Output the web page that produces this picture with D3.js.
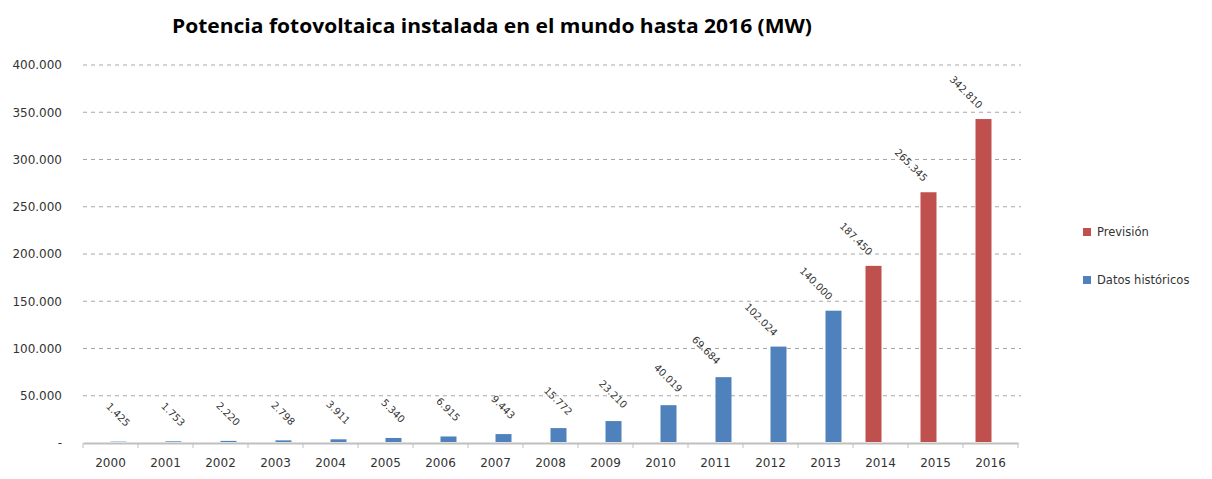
<!DOCTYPE html>
<html>
<head>
<meta charset="utf-8">
<script src="https://cdn.jsdelivr.net/npm/d3@7"></script>
<style>
  body { margin: 0; background: #fff; }
  svg text { font-family: "DejaVu Sans", "Open Sans", sans-serif; }
</style>
</head>
<body>
<svg id="chart" width="1212" height="479"></svg>
<script>
// data
const years = ['2000','2001','2002','2003','2004','2005','2006','2007','2008',
               '2009','2010','2011','2012','2013','2014','2015','2016'];
const historicos = [1425, 1753, 2220, 2798, 3911, 5340, 6915, 9443, 15772,
                    23210, 40019, 69684, 102024, 140000, null, null, null];
const prevision = [null, null, null, null, null, null, null, null, null,
                   null, null, null, null, null, 187450, 265345, 342810];
const yTicks = [0, 50000, 100000, 150000, 200000, 250000, 300000, 350000, 400000];
const seriesNames = ['Previsión', 'Datos históricos'];
const seriesColors = ['#c0504d', '#4f81bd'];

const es = d3.formatLocale({ decimal: ',', thousands: '.', grouping: [3], currency: ['', '€'] });
const fmt = es.format(',d');

const svg = d3.select('#chart');
const plot = { left: 83, right: 1018, top: 65, bottom: 443 };

const x = d3.scaleBand().domain(years).range([plot.left, plot.right]).padding(0);
const xSub = d3.scaleBand().domain(seriesNames).range([-15, 15]);
const y = d3.scaleLinear().domain([0, 400000]).range([plot.bottom, plot.top]);

// Title
svg.append('text')
  .attr('x', 492)
  .attr('y', 33)
  .attr('text-anchor', 'middle')
  .attr('textLength', 640)
  .attr('lengthAdjust', 'spacingAndGlyphs')
  .style('font-family', '"Open Sans", sans-serif')
  .style('font-size', '19px')
  .style('font-weight', 'bold')
  .style('fill', '#000')
  .text('Potencia fotovoltaica instalada en el mundo hasta 2016 (MW)');

// Gridlines
svg.append('g')
  .selectAll('line')
  .data(yTicks.filter(d => d > 0))
  .enter()
  .append('line')
  .attr('x1', plot.left)
  .attr('x2', plot.right + 3)
  .attr('y1', d => y(d))
  .attr('y2', d => y(d))
  .attr('stroke', '#a6a6a6')
  .attr('stroke-width', 1)
  .attr('stroke-dasharray', '4,4');

// Y axis labels
const yAxis = svg.append('g')
  .attr('transform', `translate(${plot.left}, 0)`)
  .call(d3.axisLeft(y).tickValues(yTicks).tickSize(0).tickPadding(21)
    .tickFormat(d => d === 0 ? '-' : fmt(d)));
yAxis.select('.domain').remove();
yAxis.selectAll('text')
  .style('font-family', '"DejaVu Sans", sans-serif')
  .style('font-size', '12px').style('fill', '#333');

// X axis
const xAxis = svg.append('g')
  .attr('transform', `translate(0, ${plot.bottom})`)
  .call(d3.axisBottom(x).tickSize(0).tickPadding(15));
xAxis.select('.domain')
  .attr('stroke', '#bfbfbf')
  .attr('stroke-width', 2);
xAxis.selectAll('text')
  .style('font-family', '"DejaVu Sans", sans-serif')
  .style('font-size', '12px').style('fill', '#333');

// tick marks between categories
svg.append('g')
  .selectAll('line')
  .data(years.concat(['end']))
  .enter()
  .append('line')
  .attr('x1', (d, i) => plot.left + i * x.step())
  .attr('x2', (d, i) => plot.left + i * x.step())
  .attr('y1', plot.bottom)
  .attr('y2', plot.bottom + 5)
  .attr('stroke', '#bfbfbf')
  .attr('stroke-width', 1);

// Bars
const rows = [];
years.forEach((yr, i) => {
  if (prevision[i] != null) rows.push({ year: yr, serie: seriesNames[0], value: prevision[i] });
  if (historicos[i] != null) rows.push({ year: yr, serie: seriesNames[1], value: historicos[i] });
});

const color = d3.scaleOrdinal().domain(seriesNames).range(seriesColors);
const cx = d => x(d.year) + x.bandwidth() / 2 + xSub(d.serie) + xSub.bandwidth() / 2;

svg.append('g')
  .selectAll('rect')
  .data(rows)
  .enter()
  .append('rect')
  .attr('x', d => cx(d) - xSub.bandwidth() / 2)
  .attr('y', d => y(d.value))
  .attr('width', xSub.bandwidth() + 1)
  .attr('height', d => Math.max(0, plot.bottom - 1 - y(d.value)))
  .attr('fill', d => color(d.serie));

// Value labels, rotated
svg.append('g')
  .selectAll('text')
  .data(rows)
  .enter()
  .append('text')
  .attr('transform', d => {
    const dx = d.value > 50000 ? -17 : 0;
    return `translate(${cx(d) + dx}, ${y(d.value) - 27}) rotate(45)`;
  })
  .attr('text-anchor', 'middle')
  .attr('dy', '0.35em')
  .style('font-size', '10px')
  .style('fill', '#333')
  .text(d => fmt(d.value));

// Legend
const legend = svg.append('g')
  .selectAll('g')
  .data(seriesNames)
  .enter()
  .append('g')
  .attr('transform', (d, i) => `translate(1083, ${232 + i * 48})`);

legend.append('rect')
  .attr('x', 0)
  .attr('y', -4)
  .attr('width', 8)
  .attr('height', 8)
  .attr('fill', d => color(d));

legend.append('text')
  .attr('x', 14)
  .attr('y', 0)
  .attr('dy', '0.35em')
  .style('font-size', '11.5px')
  .style('fill', '#333')
  .text(d => d);
</script>
</body>
</html>
